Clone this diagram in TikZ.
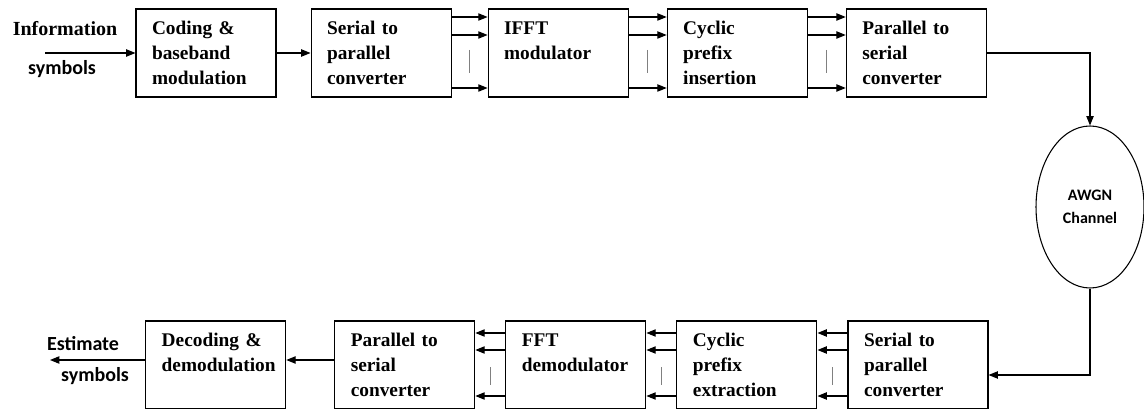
\documentclass[tikz,border=0pt]{standalone}
\usepackage{fontspec}
\setmainfont{Liberation Serif}
\setsansfont{Carlito}
\usetikzlibrary{positioning,shapes.geometric,arrows.meta,calc}

\begin{document}
\begin{tikzpicture}[x=0.75pt, y=-0.75pt,
    block/.style={draw, rectangle, line width=0.8pt, text width=81pt, inner xsep=12pt,
      minimum height=66pt, align=left, font=\fontsize{14.5}{18.75}\selectfont\bfseries},
    arr/.style={-{Triangle[length=7pt,width=5.5pt]}, line width=0.8pt},
    bar/.style={gray, line width=0.5pt},
    sanslbl/.style={font=\sffamily\fontsize{15}{16}\selectfont\bfseries}]

  \useasboundingbox (0,0) rectangle (1144,409);

  % transmitter
  \node (coding) [block] at (206,53) {Coding \&\\baseband\\modulation};
  \node (serialpar) [block, right=25.5pt of coding] {Serial to\\parallel\\converter};
  \node (ifft) [block, right=27pt of serialpar] {IFFT\\modulator\\~};
  \node (cpinsert) [block, right=28.5pt of ifft] {Cyclic\\prefix\\insertion};
  \node (parserial) [block, right=28.5pt of cpinsert] {Parallel to\\serial\\converter};

  % channel
  \node (awgn) [draw, ellipse, line width=0.8pt, minimum width=81pt, minimum height=121.5pt,
    align=center, font=\sffamily\fontsize{12}{17}\selectfont\bfseries] at (1090,207) {AWGN\\Channel};

  % receiver
  \node (serialparrx) [block] at (918,365) {Serial to\\parallel\\converter};
  \node (cpextract) [block, left=22.5pt of serialparrx] {Cyclic\\prefix\\extraction};
  \node (fft) [block, left=22.5pt of cpextract] {FFT\\demodulator\\~};
  \node (parserialrx) [block, left=22.5pt of fft] {Parallel to\\serial\\converter};
  \node (decoding) [block, left=36pt of parserialrx] {Decoding \&\\demodulation\\~};

  % input and output
  \node (infolbl) [font=\fontsize{15}{16}\selectfont\bfseries] at (65,29) {Information};
  \node (insym) [sanslbl] at (62,69) {symbols};
  \coordinate (infoin) at (45,53);
  \node (estlbl) [sanslbl] at (83,344) {Estimate};
  \node (outsym) [sanslbl] at (95,376) {symbols};
  \coordinate (estout) at (50,360);

  \draw[arr] (infoin) -- (coding.west);
  \draw[arr] (coding.east) -- (serialpar.west);
  \foreach \a/\b in {serialpar/ifft, ifft/cpinsert, cpinsert/parserial} {
    \foreach \dy in {27pt,13.5pt,-26.25pt}
      \draw[arr] ([yshift=\dy]\a.east) -- ([yshift=\dy]\b.west);
    \draw[bar] ($(\a.east)!0.5!(\b.west)+(0,-3)$) -- ($(\a.east)!0.5!(\b.west)+(0,20)$);
  }

  \draw[arr] (parserial.east) -| (awgn.north);
  \draw[arr] (awgn.south) |- ([yshift=-7.5pt]serialparrx.east);

  \foreach \a/\b in {serialparrx/cpextract, cpextract/fft, fft/parserialrx} {
    \foreach \dy in {24pt,11.25pt,-23.25pt}
      \draw[arr] ([yshift=\dy]\a.west) -- ([yshift=\dy]\b.east);
    \draw[bar] ($(\a.west)!0.5!(\b.east)+(0,2)$) -- ($(\a.west)!0.5!(\b.east)+(0,20)$);
  }
  \draw[arr] (parserialrx.west |- estout) -- (decoding.east |- estout);
  \draw[arr] (decoding.west |- estout) -- (estout);
\end{tikzpicture}
\end{document}
